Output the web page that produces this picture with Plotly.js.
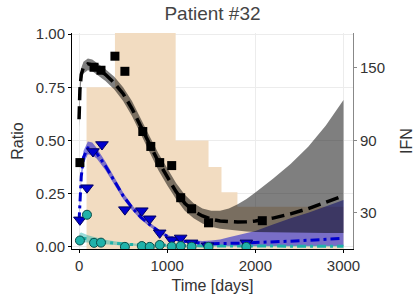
<!DOCTYPE html>
<html><head><meta charset="utf-8">
<script src="https://cdn.plot.ly/plotly-3.0.1.min.js"></script>
<style>html,body{margin:0;padding:0;background:#fff}#c{width:420px;height:300px}</style>
</head><body><div id="c"></div>
<script>
// IFN step (right axis)
const ifnDays = [85, 407, 1096, 1469, 1616, 1797, 3000];
const ifnVals = [134, 200, 90, 68, 47, 35, 35];

// common grid for fits/bands
const fitDays = [0,10,25,50,100,150,200,300,400,500,600,700,800,900,1000,1100,1200,1300,1400,1500,1600,1700,1800,1900,2000,2200,2400,2600,2800,3000];

const blackFit = [0.60,0.74,0.81,0.845,0.86,0.855,0.84,0.81,0.77,0.72,0.65,0.565,0.48,0.40,0.33,0.26,0.205,0.168,0.145,0.13,0.122,0.118,0.117,0.118,0.122,0.135,0.155,0.18,0.21,0.24];
const blackHi  = [0.64,0.77,0.84,0.87,0.885,0.88,0.865,0.835,0.80,0.75,0.685,0.60,0.52,0.44,0.37,0.30,0.245,0.205,0.18,0.17,0.17,0.18,0.20,0.225,0.255,0.32,0.39,0.47,0.57,0.69];
const blackLo  = [0.56,0.71,0.78,0.815,0.83,0.825,0.81,0.78,0.74,0.685,0.615,0.53,0.44,0.36,0.29,0.225,0.17,0.135,0.11,0.095,0.085,0.08,0.075,0.072,0.07,0.068,0.066,0.065,0.065,0.065];

const blueFit = [0.12,0.22,0.33,0.42,0.465,0.46,0.44,0.38,0.31,0.24,0.185,0.14,0.105,0.075,0.05,0.035,0.026,0.02,0.017,0.015,0.015,0.016,0.017,0.019,0.02,0.023,0.027,0.031,0.035,0.04];
const blueHi  = [0.135,0.24,0.355,0.45,0.495,0.49,0.465,0.40,0.325,0.255,0.197,0.151,0.114,0.083,0.057,0.041,0.033,0.029,0.028,0.03,0.035,0.045,0.055,0.065,0.075,0.105,0.135,0.16,0.19,0.22];
const blueLo  = [0.105,0.20,0.305,0.39,0.435,0.43,0.415,0.36,0.295,0.225,0.173,0.129,0.096,0.067,0.043,0.029,0.019,0.013,0.009,0.007,0.006,0.005,0.005,0.005,0.005,0.005,0.005,0.005,0.005,0.005];

const tealFit = [0.03,0.04,0.042,0.04,0.036,0.032,0.028,0.022,0.017,0.013,0.011,0.009,0.008,0.006,0.0055,0.005,0.005,0.0045,0.0045,0.004,0.004,0.004,0.0035,0.0035,0.003,0.003,0.003,0.003,0.003,0.003];
const tealHi  = [0.05,0.065,0.068,0.063,0.055,0.049,0.043,0.033,0.026,0.02,0.017,0.014,0.012,0.01,0.009,0.0085,0.008,0.008,0.008,0.008,0.008,0.008,0.008,0.008,0.008,0.008,0.008,0.008,0.008,0.008];
const tealLo  = [0.01,0.02,0.022,0.022,0.02,0.017,0.015,0.012,0.009,0.007,0.005,0.004,0.003,0.003,0.002,0.002,0.002,0.001,0.001,0.001,0.001,0.001,0.001,0.001,0.001,0.001,0.001,0.001,0.001,0.001];

// observations
const sqDays = [10,170,249,407,520,723,814,915,1051,1153,1277,1469,2079];
const sqVals = [0.396,0.844,0.83,0.896,0.825,0.542,0.472,0.396,0.382,0.231,0.179,0.113,0.123];
const triDays = [10,90,158,260,520,712,802,915,1051,1153,1277,1458,1898];
const triVals = [0.127,0.278,0.448,0.481,0.175,0.17,0.132,0.066,0.033,0.042,0.019,0.005,0.019];
const cirDays = [10,90,170,249,520,712,802,915,1051,1153,1277,1469,1898];
const cirVals = [0.030,0.151,0.019,0.02,0.0,0.004,0.0,0.009,0.002,0.004,0.001,0.0,0.0];

const FONT = "Liberation Sans, Arial, sans-serif";
function band(x, lo, hi, color){
  return [
    {x:x, y:lo, yaxis:'y2', type:'scatter', mode:'lines', line:{width:0, color:color}, hoverinfo:'skip', showlegend:false},
    {x:x, y:hi, yaxis:'y2', type:'scatter', mode:'lines', fill:'tonexty', fillcolor:color, line:{width:0, color:color}, hoverinfo:'skip', showlegend:false}
  ];
}
const traces = [
  {x:ifnDays, y:ifnVals, yaxis:'y', type:'scatter', mode:'lines', line:{shape:'hv', width:0, color:'#f2dcc1'}, fill:'tozeroy', fillcolor:'#f2dcc1', hoverinfo:'skip'},
  ...band(fitDays, tealLo, tealHi, 'rgba(32,178,170,0.45)'),
  ...band(fitDays, blueLo, blueHi, 'rgba(0,0,205,0.5)'),
  ...band(fitDays, blackLo, blackHi, 'rgba(0,0,0,0.5)'),
  {x:fitDays, y:tealFit, yaxis:'y2', type:'scatter', mode:'lines', line:{color:'#20b2aa', width:3, dash:'9px,4px,3px,4px'}},
  {x:fitDays, y:blueFit, yaxis:'y2', type:'scatter', mode:'lines', line:{color:'#0000cd', width:3, dash:'9px,4px,3px,4px'}},
  {x:fitDays, y:blackFit, yaxis:'y2', type:'scatter', mode:'lines', line:{color:'#000000', width:3.5, dash:'13px,6px'}},
  {x:sqDays, y:sqVals, yaxis:'y2', type:'scatter', mode:'markers', marker:{symbol:'square', size:9, color:'#000000'}},
  {x:triDays, y:triVals, yaxis:'y2', type:'scatter', mode:'markers', marker:{symbol:'triangle-down', size:11, color:'#0000cd', line:{color:'#000060', width:1}}},
  {x:cirDays, y:cirVals, yaxis:'y2', type:'scatter', mode:'markers', marker:{symbol:'circle', size:9, color:'#20b2aa', line:{color:'#0d4d49', width:1}}}
];
const layout = {
  width:420, height:300, showlegend:false,
  margin:{l:72, r:67, t:33, b:51},
  paper_bgcolor:'#fff', plot_bgcolor:'#fff',
  font:{family:FONT, size:15, color:'#333'},
  title:{text:'Patient #32', font:{size:19, color:'#444', family:FONT}, x:0.5, xref:'paper', y:0.955, yref:'container', yanchor:'middle'},
  xaxis:{range:[-80,3108], tickvals:[0,1000,2000,3000], ticktext:['0','1000','2000','3000'], showgrid:true, gridcolor:'#ececec', gridwidth:1,
    zeroline:false, showline:true, linecolor:'#000', linewidth:1, ticks:'outside', ticklen:3, tickcolor:'#000',
    title:{text:'Time [days]', font:{size:16, color:'#333'}, standoff:6}},
  yaxis:{side:'right', range:[0,179], tickvals:[30,90,150], showgrid:false, zeroline:false, showline:true, linecolor:'#888', linewidth:1,
    ticks:'outside', ticklen:3, tickcolor:'#888', title:{text:'IFN', font:{size:16, color:'#333'}, standoff:16}},
  yaxis2:{overlaying:'y', side:'left', range:[-0.01,1.005], tickvals:[0,0.25,0.5,0.75,1], ticktext:['0.00','0.25','0.50','0.75','1.00'],
    showgrid:true, gridcolor:'#ececec', gridwidth:1, zeroline:false, showline:true, linecolor:'#000', linewidth:1,
    ticks:'outside', ticklen:3, tickcolor:'#000', title:{text:'Ratio', font:{size:16, color:'#333'}, standoff:8}}
};
Plotly.newPlot('c', traces, layout, {staticPlot:true, displayModeBar:false});
</script></body></html>
